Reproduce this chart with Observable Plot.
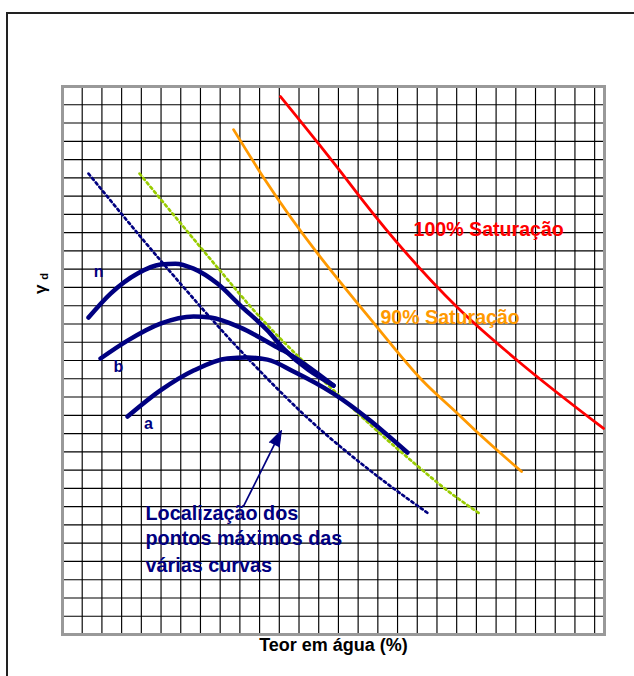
<!DOCTYPE html>
<html><head><meta charset="utf-8">
<script src="https://cdn.jsdelivr.net/npm/d3@7"></script>
<script src="https://cdn.jsdelivr.net/npm/@observablehq/plot@0.6"></script>
<style>
html,body{margin:0;padding:0;background:#fff;overflow:hidden;width:634px;height:676px;}
#chart{position:absolute;left:0;top:0;}
#frame{position:absolute;left:6px;top:12px;width:700px;height:700px;border-left:2px solid #222;border-top:2px solid #222;pointer-events:none;}
</style></head><body>
<div id="chart"></div><div id="frame"></div>
<script>
// Grid (grid units, no tick labels in the original)
const gridX = d3.range(1, 28);
const gridY = d3.range(1, 30);

// Saturation curves
const sat100 = [[11.06,29.45],[12.99,26.87],[14.46,24.85],[15.12,23.92],[20.04,17.90],[23.08,15.00],[27.45,11.28]];
const sat90  = [[8.68,27.64],[10.30,24.85],[15.98,16.80],[18.26,13.90],[20.04,12.10],[21.06,11.06],[23.29,8.92]];
// Dotted lines
const greenLine = [[3.91,25.23],[7.91,20.03],[9.54,17.95],[13.60,13.52],[17.81,9.41],[19.53,7.88],[21.16,6.62]];
const maxLine   = [[1.32,25.23],[5.33,20.03],[9.03,15.54],[12.58,11.71],[16.13,8.54],[18.57,6.62]];
// Compaction curves
const curveN = [[1.32,17.35],[2.44,18.66],[3.81,19.76],[4.97,20.25],[5.73,20.30],[6.65,20.03],[7.86,19.21],[9.03,18.01],[10.40,16.64],[11.21,15.65],[13.75,13.63]];
const curveB = [[1.93,15.11],[3.30,16.09],[4.97,17.02],[6.65,17.41],[7.51,17.35],[9.03,16.80],[10.91,15.71],[11.21,15.54],[13.75,13.63]];
const curveA = [[3.30,11.93],[4.97,13.36],[6.65,14.45],[8.37,15.11],[9.39,15.16],[10.40,15.05],[11.72,14.40],[13.75,13.19],[17.50,9.96]];
// Labels
const curveLabels = [{x:1.83,y:19.87,t:"n"},{x:2.84,y:14.67,t:"b"},{x:4.36,y:11.55,t:"a"}];
const satLabels = [{x:17.81,y:22.17,t:"100% Saturação",c:"#FF0000"},{x:16.13,y:17.35,t:"90% Saturação",c:"#FF9900"}];
const noteLines = [{x:4.21,y:6.61,t:"Localização dos"},{x:4.21,y:5.24,t:"pontos máximos das"},{x:4.21,y:3.78,t:"várias curvas"}];
const noteArrow = [{x1:9.18,y1:7.01,x2:11.11,y2:11.17}];
const xLabel = "Teor em água (%)";

const W = 634, H = 676, mL = 62, mR = 30, mT = 86, mB = 42;
const xMax = 27.5, yMax = 30;
const kx = (W - mL - mR) / xMax, ky = (H - mT - mB) / yMax;
const pts = a => a.map(([x, y]) => ({x, y}));
const NAVY = "#000080";
const FONT = "Liberation Sans, Arial, Helvetica, sans-serif";

const headLen = 16;
const arrowRows = noteArrow.map(d => {
  const dxp = (d.x2 - d.x1) * kx, dyp = (d.y2 - d.y1) * ky;
  const L = Math.hypot(dxp, dyp);
  const f = (L - headLen + 2) / L;
  return {...d, xb: d.x1 + (d.x2 - d.x1) * f, yb: d.y1 + (d.y2 - d.y1) * f,
          angle: Math.atan2(dxp, dyp) * 180 / Math.PI};
});

const headMark = (typeof Plot.spike === "function")
  ? Plot.vector(arrowRows, {x: "x2", y: "y2", rotate: "angle", length: headLen, shape: "spike", r: 5.5, anchor: "end", fill: NAVY, stroke: NAVY, strokeWidth: 1})
  : Plot.arrow(arrowRows, {x1: "x1", y1: "y1", x2: "x2", y2: "y2", stroke: NAVY, strokeWidth: 2.5, headLength: 14, headAngle: 40});

const chart = Plot.plot({
  width: W, height: H,
  marginLeft: mL, marginRight: mR, marginTop: mT, marginBottom: mB,
  x: {domain: [0, xMax], axis: null},
  y: {domain: [0, yMax], axis: null},
  style: {background: "transparent", fontFamily: FONT},
  marks: [
    Plot.ruleX(gridX, {x: d => d, stroke: "#000", strokeWidth: 1.15}),
    Plot.ruleY(gridY, {y: d => d, stroke: "#000", strokeWidth: 1.15}),
    Plot.frame({stroke: "#999", strokeWidth: 3}),
    Plot.line(pts(sat100), {x: "x", y: "y", stroke: "#FF0000", strokeWidth: 2.8, curve: "monotone-x"}),
    Plot.line(pts(sat90), {x: "x", y: "y", stroke: "#FF9900", strokeWidth: 2.8, curve: "monotone-x"}),
    Plot.line(pts(greenLine), {x: "x", y: "y", stroke: "#99CC00", strokeWidth: 2.7, strokeDasharray: "2.4,3.3", curve: "monotone-x"}),
    Plot.line(pts(maxLine), {x: "x", y: "y", stroke: NAVY, strokeWidth: 2.7, strokeDasharray: "2.4,3.3", curve: "monotone-x"}),
    Plot.line(pts(curveA), {x: "x", y: "y", stroke: NAVY, strokeWidth: 4.5, curve: "monotone-x"}),
    Plot.line(pts(curveB), {x: "x", y: "y", stroke: NAVY, strokeWidth: 4.5, curve: "monotone-x"}),
    Plot.line(pts(curveN), {x: "x", y: "y", stroke: NAVY, strokeWidth: 4.5, curve: "monotone-x"}),
    Plot.link(arrowRows, {x1: "x1", y1: "y1", x2: "xb", y2: "yb", stroke: NAVY, strokeWidth: 1.7}),
    headMark,
    Plot.text(curveLabels, {x: "x", y: "y", text: "t", fill: NAVY, fontWeight: "bold", fontSize: 16, fontFamily: FONT}),
    Plot.text(satLabels, {x: "x", y: "y", text: "t", fill: "c", fontWeight: "bold", fontSize: 19.6, textAnchor: "start", fontFamily: FONT}),
    Plot.text(noteLines, {x: "x", y: "y", text: "t", fill: NAVY, fontWeight: "bold", fontSize: 19.8, textAnchor: "start", fontFamily: FONT}),
    Plot.text([xLabel], {text: d => d, frameAnchor: "bottom", dy: 16, fill: "#000", fontWeight: "bold", fontSize: 18, fontFamily: FONT}),
    Plot.text(["γ"], {text: d => d, x: () => -1.11, y: () => 18.9, rotate: -90, fill: "#000", fontWeight: "bold", fontSize: 17, fontFamily: FONT}),
    Plot.text(["d"], {text: d => d, x: () => -0.93, y: () => 19.6, rotate: -90, fill: "#000", fontWeight: "bold", fontSize: 11, fontFamily: FONT})
  ]
});
document.getElementById("chart").appendChild(chart);
</script></body></html>
